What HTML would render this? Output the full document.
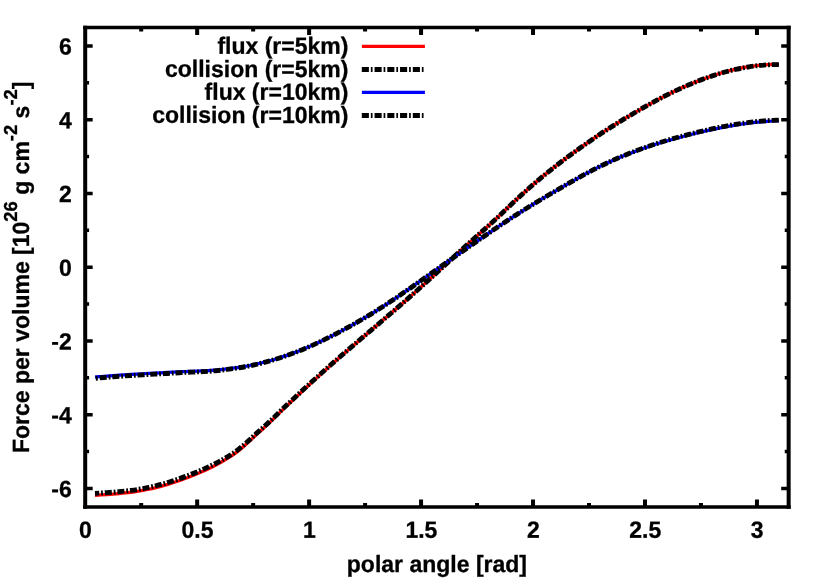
<!DOCTYPE html>
<html><head><meta charset="utf-8"><title>Force per volume</title>
<style>html,body{margin:0;padding:0;background:#fff}svg{display:block;will-change:transform;text-rendering:geometricPrecision}text{font-family:"Liberation Sans",sans-serif;font-weight:bold;font-size:23px;fill:#000;stroke:#000;stroke-width:0.3px}</style></head><body>
<svg width="830" height="581" viewBox="0 0 830 581">
<rect x="0" y="0" width="830" height="581" fill="#fff"/>
<path d="M141.18 506.90 V503.00 M141.18 27.50 V31.40 M197.16 506.90 V499.45 M197.16 27.50 V34.95 M253.14 506.90 V503.00 M253.14 27.50 V31.40 M309.12 506.90 V499.45 M309.12 27.50 V34.95 M365.09 506.90 V503.00 M365.09 27.50 V31.40 M421.07 506.90 V499.45 M421.07 27.50 V34.95 M477.05 506.90 V503.00 M477.05 27.50 V31.40 M533.03 506.90 V499.45 M533.03 27.50 V34.95 M589.01 506.90 V503.00 M589.01 27.50 V31.40 M644.99 506.90 V499.45 M644.99 27.50 V34.95 M700.97 506.90 V503.00 M700.97 27.50 V31.40 M756.95 506.90 V499.45 M756.95 27.50 V34.95" stroke="#000" stroke-width="4.00" fill="none"/>
<path d="M85.20 488.46 H92.65 M788.65 488.46 H781.20 M85.20 451.58 H89.10 M788.65 451.58 H784.75 M85.20 414.71 H92.65 M788.65 414.71 H781.20 M85.20 377.83 H89.10 M788.65 377.83 H784.75 M85.20 340.95 H92.65 M788.65 340.95 H781.20 M85.20 304.08 H89.10 M788.65 304.08 H784.75 M85.20 267.20 H92.65 M788.65 267.20 H781.20 M85.20 230.32 H89.10 M788.65 230.32 H784.75 M85.20 193.45 H92.65 M788.65 193.45 H781.20 M85.20 156.57 H89.10 M788.65 156.57 H784.75 M85.20 119.69 H92.65 M788.65 119.69 H781.20 M85.20 82.82 H89.10 M788.65 82.82 H784.75 M85.20 45.94 H92.65 M788.65 45.94 H781.20" stroke="#000" stroke-width="3.50" fill="none"/>
<text transform="matrix(1 0.0005 0 1.020 71.70 496.91)" text-anchor="end" font-size="23.4px">-6</text>
<text transform="matrix(1 0.0005 0 1.020 71.70 423.16)" text-anchor="end" font-size="23.4px">-4</text>
<text transform="matrix(1 0.0005 0 1.020 71.70 349.40)" text-anchor="end" font-size="23.4px">-2</text>
<text transform="matrix(1 0.0005 0 1.020 71.70 275.65)" text-anchor="end" font-size="23.4px">0</text>
<text transform="matrix(1 0.0005 0 1.020 71.70 201.90)" text-anchor="end" font-size="23.4px">2</text>
<text transform="matrix(1 0.0005 0 1.020 71.70 128.14)" text-anchor="end" font-size="23.4px">4</text>
<text transform="matrix(1 0.0005 0 1.020 71.70 54.39)" text-anchor="end" font-size="23.4px">6</text>
<text transform="matrix(1 0.0005 0 1.020 85.50 537.80)" text-anchor="middle" font-size="23.4px">0</text>
<text transform="matrix(1 0.0005 0 1.020 197.46 537.80)" text-anchor="middle" font-size="23.4px">0.5</text>
<text transform="matrix(1 0.0005 0 1.020 309.42 537.80)" text-anchor="middle" font-size="23.4px">1</text>
<text transform="matrix(1 0.0005 0 1.020 421.37 537.80)" text-anchor="middle" font-size="23.4px">1.5</text>
<text transform="matrix(1 0.0005 0 1.020 533.33 537.80)" text-anchor="middle" font-size="23.4px">2</text>
<text transform="matrix(1 0.0005 0 1.020 645.29 537.80)" text-anchor="middle" font-size="23.4px">2.5</text>
<text transform="matrix(1 0.0005 0 1.020 757.25 537.80)" text-anchor="middle" font-size="23.4px">3</text>
<text transform="matrix(1 0.0005 0 1.020 436.90 572.00)" text-anchor="middle">polar angle [rad]</text>
<text transform="translate(29.0 267.3) rotate(-90) scale(1 1.020)" text-anchor="middle">Force per volume [10<tspan font-size="18.4px" dy="-11.5">26</tspan><tspan dy="11.5"> g cm</tspan><tspan font-size="18.4px" dy="-11.5">-2</tspan><tspan dy="11.5"> s</tspan><tspan font-size="18.4px" dy="-11.5">-2</tspan><tspan dy="11.5">]</tspan></text>
<text transform="matrix(1 0.0005 0 1.020 348.40 53.85)" text-anchor="end">flux (r=5km)</text>
<text transform="matrix(1 0.0005 0 1.020 348.40 76.95)" text-anchor="end">collision (r=5km)</text>
<text transform="matrix(1 0.0005 0 1.020 348.40 99.85)" text-anchor="end">flux (r=10km)</text>
<text transform="matrix(1 0.0005 0 1.020 348.40 122.95)" text-anchor="end">collision (r=10km)</text>
<path d="M361.9 46.40 H424.9" stroke="#ff0000" stroke-width="3.25" fill="none"/>
<path d="M361.8 69.50 H424.9" stroke="#000" stroke-width="5.00" stroke-dasharray="7.1 1.95 1.7 2.0" fill="none"/>
<path d="M361.9 92.40 H424.9" stroke="#0000ff" stroke-width="3.25" fill="none"/>
<path d="M361.8 115.50 H424.9" stroke="#000" stroke-width="5.00" stroke-dasharray="7.1 1.95 1.7 2.0" fill="none"/>
<path d="M95.00 495.28 C96.00 495.22 99.00 495.03 101.00 494.90 C103.00 494.78 105.00 494.65 107.00 494.51 C109.00 494.37 111.00 494.23 113.00 494.07 C115.00 493.91 117.00 493.75 119.00 493.57 C121.00 493.38 123.00 493.19 125.00 492.97 C127.00 492.76 129.00 492.53 131.00 492.27 C133.00 492.01 135.00 491.74 137.00 491.43 C139.00 491.13 141.00 490.80 143.00 490.44 C145.00 490.07 147.00 489.68 149.00 489.26 C151.00 488.83 153.00 488.38 155.00 487.89 C157.00 487.40 159.00 486.88 161.00 486.34 C163.00 485.79 165.00 485.22 167.00 484.62 C169.00 484.01 171.00 483.38 173.00 482.73 C175.00 482.08 177.00 481.40 179.00 480.70 C181.00 480.00 183.00 479.27 185.00 478.52 C187.00 477.78 189.00 477.01 191.00 476.22 C193.00 475.43 195.00 474.63 197.00 473.80 C199.00 472.97 201.00 472.11 203.00 471.21 C205.00 470.32 207.00 469.39 209.00 468.43 C211.00 467.47 213.00 466.48 215.00 465.44 C217.00 464.40 219.00 463.33 221.00 462.21 C223.00 461.08 225.00 459.92 227.00 458.69 C229.00 457.45 231.00 456.18 233.00 454.80 C235.00 453.42 237.00 451.97 239.00 450.39 C241.00 448.81 243.00 447.10 245.00 445.32 C247.00 443.55 249.00 441.61 251.00 439.74 C253.00 437.87 255.00 435.96 257.00 434.12 C259.00 432.28 261.00 430.51 263.00 428.69 C265.00 426.86 267.00 425.07 269.00 423.18 C271.00 421.30 273.00 419.34 275.00 417.38 C277.00 415.43 279.00 413.39 281.00 411.44 C283.00 409.48 285.00 407.57 287.00 405.65 C289.00 403.74 291.00 401.83 293.00 399.95 C295.00 398.06 297.00 396.22 299.00 394.34 C301.00 392.47 303.00 390.58 305.00 388.71 C307.00 386.84 309.00 384.98 311.00 383.14 C313.00 381.29 315.00 379.46 317.00 377.64 C319.00 375.82 321.00 374.01 323.00 372.22 C325.00 370.42 327.00 368.63 329.00 366.86 C331.00 365.08 333.00 363.31 335.00 361.55 C337.00 359.79 339.00 358.03 341.00 356.29 C343.00 354.54 345.00 352.80 347.00 351.06 C349.00 349.32 351.00 347.59 353.00 345.86 C355.00 344.13 357.00 342.41 359.00 340.69 C361.00 338.96 363.00 337.24 365.00 335.52 C367.00 333.80 369.00 332.09 371.00 330.37 C373.00 328.65 375.00 326.93 377.00 325.21 C379.00 323.50 381.00 321.79 383.00 320.08 C385.00 318.37 387.00 316.67 389.00 314.96 C391.00 313.25 393.00 311.55 395.00 309.83 C397.00 308.11 399.00 306.39 401.00 304.66 C403.00 302.92 405.00 301.16 407.00 299.41 C409.00 297.65 411.00 295.89 413.00 294.12 C415.00 292.35 417.00 290.57 419.00 288.79 C421.00 287.00 423.00 285.21 425.00 283.40 C427.00 281.60 429.00 279.79 431.00 277.96 C433.00 276.14 435.00 274.30 437.00 272.46 C439.00 270.62 441.00 268.77 443.00 266.91 C445.00 265.06 447.00 263.20 449.00 261.34 C451.00 259.48 453.00 257.61 455.00 255.76 C457.00 253.92 459.00 252.08 461.00 250.26 C463.00 248.44 465.00 246.64 467.00 244.85 C469.00 243.06 471.00 241.28 473.00 239.50 C475.00 237.72 477.00 235.96 479.00 234.18 C481.00 232.40 483.00 230.63 485.00 228.84 C487.00 227.05 489.00 225.26 491.00 223.43 C493.00 221.61 495.00 219.78 497.00 217.92 C499.00 216.05 501.00 214.15 503.00 212.26 C505.00 210.36 507.00 208.44 509.00 206.54 C511.00 204.64 513.00 202.74 515.00 200.87 C517.00 199.00 519.00 197.16 521.00 195.34 C523.00 193.52 525.00 191.71 527.00 189.94 C529.00 188.16 531.00 186.41 533.00 184.68 C535.00 182.96 537.00 181.26 539.00 179.58 C541.00 177.90 543.00 176.24 545.00 174.61 C547.00 172.97 549.00 171.36 551.00 169.77 C553.00 168.17 555.00 166.59 557.00 165.04 C559.00 163.49 561.00 161.96 563.00 160.46 C565.00 158.95 567.00 157.46 569.00 155.99 C571.00 154.52 573.00 153.07 575.00 151.63 C577.00 150.19 579.00 148.76 581.00 147.35 C583.00 145.93 585.00 144.53 587.00 143.15 C589.00 141.76 591.00 140.38 593.00 139.01 C595.00 137.65 597.00 136.28 599.00 134.95 C601.00 133.61 603.00 132.31 605.00 131.01 C607.00 129.72 609.00 128.43 611.00 127.16 C613.00 125.89 615.00 124.63 617.00 123.38 C619.00 122.14 621.00 120.90 623.00 119.68 C625.00 118.46 627.00 117.25 629.00 116.06 C631.00 114.87 633.00 113.69 635.00 112.53 C637.00 111.36 639.00 110.22 641.00 109.07 C643.00 107.92 645.00 106.76 647.00 105.63 C649.00 104.50 651.00 103.39 653.00 102.30 C655.00 101.20 657.00 100.13 659.00 99.07 C661.00 98.01 663.00 96.97 665.00 95.95 C667.00 94.93 669.00 93.93 671.00 92.95 C673.00 91.97 675.00 91.01 677.00 90.07 C679.00 89.14 681.00 88.22 683.00 87.32 C685.00 86.43 687.00 85.55 689.00 84.70 C691.00 83.85 693.00 83.02 695.00 82.22 C697.00 81.41 699.00 80.63 701.00 79.87 C703.00 79.11 705.00 78.37 707.00 77.65 C709.00 76.94 711.00 76.25 713.00 75.59 C715.00 74.92 717.00 74.29 719.00 73.68 C721.00 73.07 723.00 72.48 725.00 71.93 C727.00 71.37 729.00 70.85 731.00 70.35 C733.00 69.85 735.00 69.38 737.00 68.94 C739.00 68.50 741.00 68.08 743.00 67.70 C745.00 67.32 747.00 66.97 749.00 66.65 C751.00 66.33 753.00 66.04 755.00 65.79 C757.00 65.53 759.00 65.30 761.00 65.11 C763.00 64.92 765.00 64.76 767.00 64.64 C769.00 64.51 771.00 64.42 773.00 64.36 C775.00 64.30 778.00 64.30 779.00 64.29" stroke="#ff0000" stroke-width="3.25" fill="none"/>
<path d="M95.00 493.38 C96.00 493.32 99.00 493.13 101.00 493.00 C103.00 492.88 105.00 492.75 107.00 492.61 C109.00 492.47 111.00 492.33 113.00 492.17 C115.00 492.01 117.00 491.85 119.00 491.67 C121.00 491.48 123.00 491.29 125.00 491.07 C127.00 490.86 129.00 490.63 131.00 490.37 C133.00 490.11 135.00 489.84 137.00 489.53 C139.00 489.23 141.00 488.90 143.00 488.54 C145.00 488.17 147.00 487.78 149.00 487.36 C151.00 486.93 153.00 486.48 155.00 485.99 C157.00 485.50 159.00 484.98 161.00 484.44 C163.00 483.89 165.00 483.32 167.00 482.72 C169.00 482.11 171.00 481.48 173.00 480.83 C175.00 480.18 177.00 479.50 179.00 478.80 C181.00 478.10 183.00 477.37 185.00 476.62 C187.00 475.88 189.00 475.11 191.00 474.32 C193.00 473.53 195.00 472.73 197.00 471.90 C199.00 471.07 201.00 470.23 203.00 469.35 C205.00 468.47 207.00 467.57 209.00 466.64 C211.00 465.70 213.00 464.73 215.00 463.72 C217.00 462.71 219.00 461.66 221.00 460.56 C223.00 459.46 225.00 458.32 227.00 457.11 C229.00 455.90 231.00 454.65 233.00 453.29 C235.00 451.94 237.00 450.52 239.00 448.96 C241.00 447.41 243.00 445.71 245.00 443.96 C247.00 442.21 249.00 440.29 251.00 438.45 C253.00 436.61 255.00 434.72 257.00 432.90 C259.00 431.09 261.00 429.34 263.00 427.54 C265.00 425.74 267.00 423.97 269.00 422.11 C271.00 420.25 273.00 418.32 275.00 416.38 C277.00 414.45 279.00 412.44 281.00 410.51 C283.00 408.58 285.00 406.69 287.00 404.80 C289.00 402.90 291.00 401.02 293.00 399.16 C295.00 397.30 297.00 395.48 299.00 393.63 C301.00 391.78 303.00 389.90 305.00 388.05 C307.00 386.20 309.00 384.36 311.00 382.53 C313.00 380.70 315.00 378.89 317.00 377.09 C319.00 375.29 321.00 373.50 323.00 371.72 C325.00 369.94 327.00 368.17 329.00 366.41 C331.00 364.65 333.00 362.90 335.00 361.15 C337.00 359.41 339.00 357.68 341.00 355.94 C343.00 354.21 345.00 352.49 347.00 350.77 C349.00 349.05 351.00 347.34 353.00 345.63 C355.00 343.92 357.00 342.21 359.00 340.50 C361.00 338.80 363.00 337.09 365.00 335.39 C367.00 333.69 369.00 331.99 371.00 330.29 C373.00 328.59 375.00 326.89 377.00 325.19 C379.00 323.49 381.00 321.79 383.00 320.08 C385.00 318.38 387.00 316.67 389.00 314.96 C391.00 313.25 393.00 311.55 395.00 309.83 C397.00 308.11 399.00 306.39 401.00 304.66 C403.00 302.92 405.00 301.16 407.00 299.41 C409.00 297.65 411.00 295.89 413.00 294.12 C415.00 292.35 417.00 290.57 419.00 288.79 C421.00 287.00 423.00 285.21 425.00 283.40 C427.00 281.60 429.00 279.79 431.00 277.96 C433.00 276.14 435.00 274.30 437.00 272.46 C439.00 270.62 441.00 268.77 443.00 266.91 C445.00 265.06 447.00 263.20 449.00 261.34 C451.00 259.48 453.00 257.61 455.00 255.76 C457.00 253.92 459.00 252.08 461.00 250.26 C463.00 248.44 465.00 246.64 467.00 244.85 C469.00 243.06 471.00 241.28 473.00 239.50 C475.00 237.72 477.00 235.96 479.00 234.18 C481.00 232.40 483.00 230.63 485.00 228.84 C487.00 227.05 489.00 225.26 491.00 223.43 C493.00 221.61 495.00 219.78 497.00 217.92 C499.00 216.05 501.00 214.15 503.00 212.26 C505.00 210.36 507.00 208.44 509.00 206.54 C511.00 204.64 513.00 202.74 515.00 200.87 C517.00 199.00 519.00 197.16 521.00 195.34 C523.00 193.52 525.00 191.71 527.00 189.94 C529.00 188.16 531.00 186.41 533.00 184.68 C535.00 182.96 537.00 181.26 539.00 179.58 C541.00 177.90 543.00 176.24 545.00 174.61 C547.00 172.97 549.00 171.36 551.00 169.77 C553.00 168.17 555.00 166.59 557.00 165.04 C559.00 163.49 561.00 161.96 563.00 160.46 C565.00 158.95 567.00 157.46 569.00 155.99 C571.00 154.52 573.00 153.07 575.00 151.63 C577.00 150.19 579.00 148.76 581.00 147.35 C583.00 145.93 585.00 144.53 587.00 143.15 C589.00 141.76 591.00 140.38 593.00 139.01 C595.00 137.65 597.00 136.28 599.00 134.95 C601.00 133.61 603.00 132.31 605.00 131.01 C607.00 129.72 609.00 128.43 611.00 127.16 C613.00 125.89 615.00 124.63 617.00 123.38 C619.00 122.14 621.00 120.90 623.00 119.68 C625.00 118.46 627.00 117.25 629.00 116.06 C631.00 114.87 633.00 113.69 635.00 112.53 C637.00 111.36 639.00 110.22 641.00 109.07 C643.00 107.92 645.00 106.76 647.00 105.63 C649.00 104.50 651.00 103.39 653.00 102.30 C655.00 101.20 657.00 100.13 659.00 99.07 C661.00 98.01 663.00 96.97 665.00 95.95 C667.00 94.93 669.00 93.93 671.00 92.95 C673.00 91.97 675.00 91.01 677.00 90.07 C679.00 89.14 681.00 88.22 683.00 87.32 C685.00 86.43 687.00 85.55 689.00 84.70 C691.00 83.85 693.00 83.02 695.00 82.22 C697.00 81.41 699.00 80.63 701.00 79.88 C703.00 79.12 705.00 78.39 707.00 77.68 C709.00 76.97 711.00 76.29 713.00 75.64 C715.00 74.98 717.00 74.35 719.00 73.75 C721.00 73.15 723.00 72.57 725.00 72.02 C727.00 71.48 729.00 70.96 731.00 70.46 C733.00 69.97 735.00 69.51 737.00 69.08 C739.00 68.64 741.00 68.24 743.00 67.87 C745.00 67.49 747.00 67.15 749.00 66.84 C751.00 66.53 753.00 66.24 755.00 66.00 C757.00 65.75 759.00 65.53 761.00 65.34 C763.00 65.16 765.00 65.01 767.00 64.89 C769.00 64.77 771.00 64.69 773.00 64.64 C775.00 64.59 778.00 64.60 779.00 64.59" stroke="#000" stroke-width="4.85" stroke-dasharray="7.05 1.9 1.8 1.905" stroke-dashoffset="2.84" fill="none"/>
<path d="M95.00 377.06 C96.00 376.97 99.00 376.71 101.00 376.54 C103.00 376.37 105.00 376.21 107.00 376.06 C109.00 375.90 111.00 375.75 113.00 375.61 C115.00 375.46 117.00 375.33 119.00 375.19 C121.00 375.06 123.00 374.93 125.00 374.80 C127.00 374.68 129.00 374.56 131.00 374.44 C133.00 374.32 135.00 374.20 137.00 374.09 C139.00 373.97 141.00 373.86 143.00 373.75 C145.00 373.64 147.00 373.53 149.00 373.43 C151.00 373.32 153.00 373.21 155.00 373.11 C157.00 373.00 159.00 372.89 161.00 372.79 C163.00 372.68 165.00 372.57 167.00 372.46 C169.00 372.35 171.00 372.25 173.00 372.15 C175.00 372.05 177.00 371.95 179.00 371.84 C181.00 371.74 183.00 371.60 185.00 371.52 C187.00 371.44 189.00 371.42 191.00 371.37 C193.00 371.31 195.00 371.26 197.00 371.19 C199.00 371.13 201.00 371.06 203.00 370.98 C205.00 370.90 207.00 370.84 209.00 370.72 C211.00 370.59 213.00 370.41 215.00 370.23 C217.00 370.05 219.00 369.84 221.00 369.63 C223.00 369.42 225.00 369.20 227.00 368.96 C229.00 368.73 231.00 368.47 233.00 368.20 C235.00 367.94 237.00 367.65 239.00 367.35 C241.00 367.04 243.00 366.74 245.00 366.38 C247.00 366.03 249.00 365.64 251.00 365.23 C253.00 364.83 255.00 364.40 257.00 363.95 C259.00 363.50 261.00 363.03 263.00 362.53 C265.00 362.03 267.00 361.51 269.00 360.95 C271.00 360.40 273.00 359.82 275.00 359.22 C277.00 358.62 279.00 357.98 281.00 357.34 C283.00 356.69 285.00 356.04 287.00 355.35 C289.00 354.66 291.00 353.95 293.00 353.21 C295.00 352.47 297.00 351.72 299.00 350.93 C301.00 350.14 303.00 349.32 305.00 348.47 C307.00 347.63 309.00 346.77 311.00 345.88 C313.00 345.00 315.00 344.09 317.00 343.16 C319.00 342.24 321.00 341.29 323.00 340.32 C325.00 339.36 327.00 338.37 329.00 337.37 C331.00 336.37 333.00 335.35 335.00 334.32 C337.00 333.28 339.00 332.23 341.00 331.16 C343.00 330.09 345.00 329.01 347.00 327.91 C349.00 326.81 351.00 325.70 353.00 324.57 C355.00 323.45 357.00 322.31 359.00 321.16 C361.00 320.01 363.00 318.84 365.00 317.66 C367.00 316.48 369.00 315.28 371.00 314.06 C373.00 312.84 375.00 311.59 377.00 310.33 C379.00 309.07 381.00 307.79 383.00 306.50 C385.00 305.21 387.00 303.90 389.00 302.58 C391.00 301.26 393.00 299.92 395.00 298.58 C397.00 297.23 399.00 295.88 401.00 294.51 C403.00 293.14 405.00 291.74 407.00 290.35 C409.00 288.96 411.00 287.56 413.00 286.16 C415.00 284.76 417.00 283.36 419.00 281.95 C421.00 280.55 423.00 279.14 425.00 277.73 C427.00 276.32 429.00 274.90 431.00 273.49 C433.00 272.07 435.00 270.65 437.00 269.23 C439.00 267.82 441.00 266.40 443.00 264.99 C445.00 263.59 447.00 262.19 449.00 260.78 C451.00 259.37 453.00 257.97 455.00 256.56 C457.00 255.16 459.00 253.75 461.00 252.35 C463.00 250.95 465.00 249.55 467.00 248.15 C469.00 246.75 471.00 245.36 473.00 243.97 C475.00 242.57 477.00 241.19 479.00 239.80 C481.00 238.42 483.00 237.04 485.00 235.67 C487.00 234.30 489.00 232.93 491.00 231.57 C493.00 230.21 495.00 228.86 497.00 227.51 C499.00 226.17 501.00 224.83 503.00 223.50 C505.00 222.18 507.00 220.86 509.00 219.55 C511.00 218.24 513.00 216.94 515.00 215.65 C517.00 214.36 519.00 213.08 521.00 211.82 C523.00 210.55 525.00 209.30 527.00 208.06 C529.00 206.81 531.00 205.58 533.00 204.36 C535.00 203.14 537.00 201.93 539.00 200.72 C541.00 199.52 543.00 198.33 545.00 197.14 C547.00 195.95 549.00 194.78 551.00 193.60 C553.00 192.43 555.00 191.27 557.00 190.11 C559.00 188.95 561.00 187.79 563.00 186.64 C565.00 185.49 567.00 184.34 569.00 183.20 C571.00 182.06 573.00 180.92 575.00 179.79 C577.00 178.66 579.00 177.54 581.00 176.43 C583.00 175.33 585.00 174.23 587.00 173.15 C589.00 172.08 591.00 171.01 593.00 169.97 C595.00 168.92 597.00 167.89 599.00 166.90 C601.00 165.90 603.00 164.94 605.00 164.00 C607.00 163.05 609.00 162.14 611.00 161.24 C613.00 160.34 615.00 159.46 617.00 158.60 C619.00 157.75 621.00 156.91 623.00 156.09 C625.00 155.28 627.00 154.48 629.00 153.70 C631.00 152.92 633.00 152.16 635.00 151.42 C637.00 150.67 639.00 149.95 641.00 149.24 C643.00 148.53 645.00 147.84 647.00 147.16 C649.00 146.48 651.00 145.83 653.00 145.18 C655.00 144.53 657.00 143.91 659.00 143.29 C661.00 142.67 663.00 142.07 665.00 141.48 C667.00 140.89 669.00 140.32 671.00 139.76 C673.00 139.19 675.00 138.65 677.00 138.11 C679.00 137.56 681.00 137.03 683.00 136.51 C685.00 135.98 687.00 135.46 689.00 134.95 C691.00 134.44 693.00 133.94 695.00 133.45 C697.00 132.96 699.00 132.48 701.00 132.01 C703.00 131.54 705.00 131.08 707.00 130.63 C709.00 130.18 711.00 129.74 713.00 129.31 C715.00 128.89 717.00 128.47 719.00 128.07 C721.00 127.67 723.00 127.28 725.00 126.90 C727.00 126.53 729.00 126.17 731.00 125.82 C733.00 125.47 735.00 125.14 737.00 124.82 C739.00 124.51 741.00 124.20 743.00 123.92 C745.00 123.63 747.00 123.37 749.00 123.11 C751.00 122.86 753.00 122.63 755.00 122.42 C757.00 122.20 759.00 122.00 761.00 121.83 C763.00 121.65 765.00 121.49 767.00 121.35 C769.00 121.21 771.00 121.10 773.00 121.00 C775.00 120.90 778.00 120.81 779.00 120.77" stroke="#0000ff" stroke-width="3.25" fill="none"/>
<path d="M95.00 378.31 C96.00 378.22 99.00 377.94 101.00 377.77 C103.00 377.59 105.00 377.43 107.00 377.27 C109.00 377.10 111.00 376.95 113.00 376.80 C115.00 376.65 117.00 376.50 119.00 376.36 C121.00 376.22 123.00 376.09 125.00 375.95 C127.00 375.82 129.00 375.69 131.00 375.57 C133.00 375.44 135.00 375.32 137.00 375.20 C139.00 375.08 141.00 374.96 143.00 374.84 C145.00 374.73 147.00 374.61 149.00 374.50 C151.00 374.38 153.00 374.27 155.00 374.16 C157.00 374.04 159.00 373.93 161.00 373.82 C163.00 373.70 165.00 373.59 167.00 373.47 C169.00 373.35 171.00 373.24 173.00 373.12 C175.00 373.00 177.00 372.88 179.00 372.75 C181.00 372.63 183.00 372.47 185.00 372.37 C187.00 372.27 189.00 372.23 191.00 372.16 C193.00 372.08 195.00 372.01 197.00 371.92 C199.00 371.84 201.00 371.75 203.00 371.65 C205.00 371.55 207.00 371.47 209.00 371.33 C211.00 371.19 213.00 370.99 215.00 370.79 C217.00 370.60 219.00 370.38 221.00 370.16 C223.00 369.94 225.00 369.70 227.00 369.45 C229.00 369.20 231.00 368.93 233.00 368.65 C235.00 368.37 237.00 368.07 239.00 367.76 C241.00 367.44 243.00 367.12 245.00 366.75 C247.00 366.38 249.00 365.98 251.00 365.56 C253.00 365.14 255.00 364.70 257.00 364.24 C259.00 363.77 261.00 363.29 263.00 362.77 C265.00 362.26 267.00 361.73 269.00 361.16 C271.00 360.60 273.00 360.00 275.00 359.39 C277.00 358.77 279.00 358.12 281.00 357.46 C283.00 356.80 285.00 356.14 287.00 355.44 C289.00 354.74 291.00 354.01 293.00 353.26 C295.00 352.51 297.00 351.73 299.00 350.94 C301.00 350.14 303.00 349.32 305.00 348.47 C307.00 347.63 309.00 346.77 311.00 345.88 C313.00 345.00 315.00 344.09 317.00 343.16 C319.00 342.24 321.00 341.29 323.00 340.32 C325.00 339.36 327.00 338.37 329.00 337.37 C331.00 336.37 333.00 335.35 335.00 334.32 C337.00 333.28 339.00 332.23 341.00 331.16 C343.00 330.09 345.00 329.01 347.00 327.91 C349.00 326.81 351.00 325.70 353.00 324.57 C355.00 323.45 357.00 322.31 359.00 321.16 C361.00 320.01 363.00 318.84 365.00 317.66 C367.00 316.48 369.00 315.28 371.00 314.06 C373.00 312.84 375.00 311.59 377.00 310.33 C379.00 309.07 381.00 307.79 383.00 306.50 C385.00 305.21 387.00 303.90 389.00 302.58 C391.00 301.26 393.00 299.92 395.00 298.58 C397.00 297.23 399.00 295.88 401.00 294.51 C403.00 293.14 405.00 291.74 407.00 290.35 C409.00 288.96 411.00 287.56 413.00 286.16 C415.00 284.76 417.00 283.36 419.00 281.95 C421.00 280.55 423.00 279.14 425.00 277.73 C427.00 276.32 429.00 274.90 431.00 273.49 C433.00 272.07 435.00 270.65 437.00 269.23 C439.00 267.82 441.00 266.40 443.00 264.99 C445.00 263.59 447.00 262.19 449.00 260.78 C451.00 259.37 453.00 257.97 455.00 256.56 C457.00 255.16 459.00 253.75 461.00 252.35 C463.00 250.95 465.00 249.55 467.00 248.15 C469.00 246.75 471.00 245.36 473.00 243.97 C475.00 242.57 477.00 241.19 479.00 239.80 C481.00 238.42 483.00 237.04 485.00 235.67 C487.00 234.30 489.00 232.93 491.00 231.57 C493.00 230.21 495.00 228.86 497.00 227.51 C499.00 226.17 501.00 224.83 503.00 223.50 C505.00 222.18 507.00 220.86 509.00 219.55 C511.00 218.24 513.00 216.94 515.00 215.65 C517.00 214.36 519.00 213.08 521.00 211.82 C523.00 210.55 525.00 209.30 527.00 208.06 C529.00 206.81 531.00 205.58 533.00 204.36 C535.00 203.14 537.00 201.93 539.00 200.72 C541.00 199.52 543.00 198.33 545.00 197.14 C547.00 195.95 549.00 194.78 551.00 193.60 C553.00 192.43 555.00 191.27 557.00 190.11 C559.00 188.95 561.00 187.79 563.00 186.64 C565.00 185.49 567.00 184.34 569.00 183.20 C571.00 182.06 573.00 180.92 575.00 179.79 C577.00 178.66 579.00 177.54 581.00 176.43 C583.00 175.33 585.00 174.23 587.00 173.15 C589.00 172.08 591.00 171.01 593.00 169.97 C595.00 168.92 597.00 167.90 599.00 166.90 C601.00 165.90 603.00 164.92 605.00 163.96 C607.00 163.00 609.00 162.07 611.00 161.16 C613.00 160.24 615.00 159.35 617.00 158.48 C619.00 157.61 621.00 156.75 623.00 155.92 C625.00 155.09 627.00 154.28 629.00 153.48 C631.00 152.69 633.00 151.91 635.00 151.15 C637.00 150.39 639.00 149.65 641.00 148.93 C643.00 148.21 645.00 147.50 647.00 146.81 C649.00 146.12 651.00 145.44 653.00 144.78 C655.00 144.12 657.00 143.48 659.00 142.85 C661.00 142.22 663.00 141.60 665.00 141.00 C667.00 140.39 669.00 139.80 671.00 139.22 C673.00 138.65 675.00 138.08 677.00 137.53 C679.00 136.98 681.00 136.43 683.00 135.90 C685.00 135.37 687.00 134.85 689.00 134.34 C691.00 133.83 693.00 133.33 695.00 132.84 C697.00 132.34 699.00 131.86 701.00 131.39 C703.00 130.92 705.00 130.45 707.00 130.00 C709.00 129.55 711.00 129.11 713.00 128.68 C715.00 128.25 717.00 127.83 719.00 127.43 C721.00 127.03 723.00 126.63 725.00 126.26 C727.00 125.88 729.00 125.52 731.00 125.17 C733.00 124.82 735.00 124.48 737.00 124.16 C739.00 123.85 741.00 123.54 743.00 123.26 C745.00 122.97 747.00 122.70 749.00 122.44 C751.00 122.19 753.00 121.96 755.00 121.74 C757.00 121.52 759.00 121.32 761.00 121.14 C763.00 120.96 765.00 120.80 767.00 120.66 C769.00 120.52 771.00 120.40 773.00 120.31 C775.00 120.21 778.00 120.11 779.00 120.07" stroke="#000" stroke-width="4.85" stroke-dasharray="7.05 1.9 1.8 1.915" stroke-dashoffset="7.99" fill="none"/>
<path d="M85.20 25.75 V508.65 M788.65 25.75 V508.65" stroke="#000" stroke-width="4.00" fill="none"/>
<path d="M83.20 27.50 H790.65 M83.20 506.90 H790.65" stroke="#000" stroke-width="3.50" fill="none"/>
</svg></body></html>
